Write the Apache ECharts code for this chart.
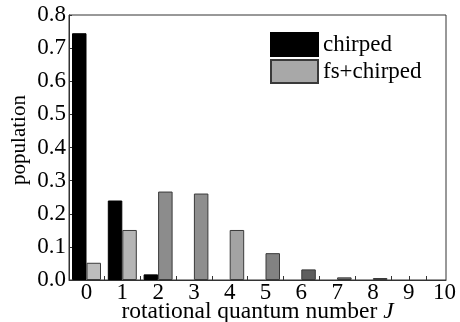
<!DOCTYPE html>
<html>
<head>
<meta charset="utf-8">
<script src="https://cdn.jsdelivr.net/npm/echarts@6/dist/echarts.min.js"></script>
<style>
  html, body { margin: 0; padding: 0; background: #fff; }
  #main { width: 460px; height: 322px; }
</style>
</head>
<body>
<div id="main"></div>
<script>
// rotational quantum number J
var levels = ['0', '1', '2', '3', '4', '5', '6', '7', '8', '9', '10'];
var chirped = [0.745, 0.24, 0.017, null, null, null, null, null, null, null, null];
var fsChirped = [0.052, 0.151, 0.267, 0.261, 0.151, 0.081, 0.032, 0.008, 0.006, null, null];
var labelValues = [0, 1, 2, 3, 4, 5, 6, 7, 8, 9, 10];
var xMinorTicks = [0.5, 1.5, 2.5, 3.5, 4.5, 5.5, 6.5, 7.5, 8.5, 9, 9.5];

// shading of the grey bars (halftone-ish in the scan)
var greyShades = ['#bdbdbd', '#b5b5b5', '#8c8c8c', '#8e8e8e', '#a3a3a3', '#828282', '#5e5e5e', '#777', '#777', '#777', '#777'];

var serif = 'Liberation Serif';
var mychart = echarts.init(document.getElementById('main'));

var option = {
    animation: false,
    backgroundColor: '#fff',
    grid: [
        // visible frame + axes
        { left: 69, right: 14, top: 15, bottom: 42, outerBoundsMode: 'none', containLabel: false,
          show: true, borderColor: '#333', borderWidth: 1 },
        // bars: one category per J, 35.8px each, J=0 centred at x=86.5
        { left: 68.6, right: -2.4, top: 15, bottom: 42, outerBoundsMode: 'none', containLabel: false }
    ],
    legend: {
        orient: 'vertical',
        left: 270,
        top: 32,
        padding: 0,
        itemWidth: 47,
        itemHeight: 23,
        itemGap: 2,
        icon: 'rect',
        textStyle: { fontFamily: serif, fontSize: 23, lineHeight: 23, color: '#000' },
        data: ['chirped', 'fs+chirped']
    },
    graphic: [{
        type: 'text',
        x: 19, y: 140,
        rotation: Math.PI / 2,
        style: {
            text: 'population',
            fontFamily: serif, fontSize: 21, fill: '#000',
            align: 'center', verticalAlign: 'middle'
        }
    }],
    xAxis: [
        {
            gridIndex: 0,
            type: 'value',
            min: -0.49,
            max: 10.04,
            name: 'rotational quantum number {i|J}',
            nameLocation: 'middle',
            nameGap: 20,
            nameMoveOverlap: false,
            nameTextStyle: {
                fontFamily: serif, fontSize: 23.5, color: '#000',
                rich: { i: { fontFamily: serif, fontSize: 23.5, fontStyle: 'italic', color: '#000' } }
            },
            splitLine: { show: false },
            axisLine: { onZero: false, lineStyle: { color: '#333', width: 1 } },
            axisTick: { inside: true, length: 4, customValues: xMinorTicks, lineStyle: { color: '#333' } },
            axisLabel: {
                customValues: labelValues,
                margin: 1,
                fontFamily: serif, fontSize: 23, color: '#000'
            }
        },
        {
            gridIndex: 1,
            type: 'category',
            data: levels,
            show: false
        }
    ],
    yAxis: [
        {
            gridIndex: 0,
            type: 'value',
            min: 0,
            max: 0.8,
            interval: 0.1,
            splitLine: { show: false },
            axisLine: { show: true, onZero: false, lineStyle: { color: '#333', width: 1 } },
            axisTick: { inside: true, length: 3, lineStyle: { color: '#333' } },
            axisLabel: {
                margin: 3,
                fontFamily: serif, fontSize: 23, color: '#000',
                formatter: function (v) { return v.toFixed(1); }
            }
        },
        {
            gridIndex: 1,
            type: 'value',
            min: 0,
            max: 0.8,
            show: false,
            splitLine: { show: false }
        }
    ],
    series: [
        {
            name: 'chirped',
            type: 'bar',
            xAxisIndex: 1,
            yAxisIndex: 1,
            barWidth: 14.5,
            barGap: '0%',
            itemStyle: { color: '#000', borderColor: '#000', borderWidth: 1 },
            data: chirped
        },
        {
            name: 'fs+chirped',
            type: 'bar',
            xAxisIndex: 1,
            yAxisIndex: 1,
            barWidth: 14.5,
            barGap: '0%',
            itemStyle: { color: '#a8a8a8', borderColor: '#3a3a3a', borderWidth: 1 },
            data: fsChirped.map(function (v, i) {
                return { value: v, itemStyle: { color: greyShades[i] } };
            })
        }
    ]
};
mychart.setOption(option);
</script>
</body>
</html>
